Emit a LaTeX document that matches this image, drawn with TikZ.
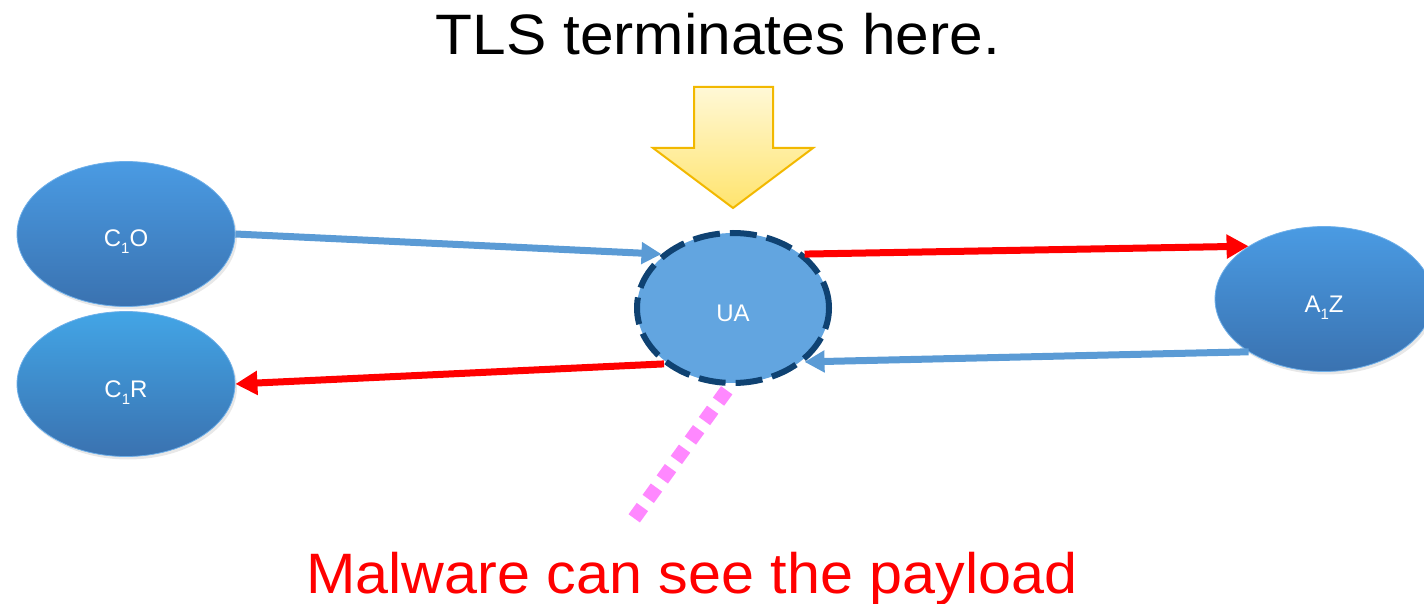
\documentclass[tikz,border=0pt]{standalone}
\usepackage{fontspec}
\setmainfont{Liberation Sans}
\usetikzlibrary{arrows.meta,shapes.geometric,shadows}

\definecolor{ellTop}{HTML}{4A9BE3}
\definecolor{ellBot}{HTML}{3A72B0}
\definecolor{uaFill}{HTML}{62A5E0}
\definecolor{uaEdge}{HTML}{0F4272}
\definecolor{linkBlue}{HTML}{5B9BD5}
\definecolor{linkRed}{HTML}{FF0000}
\definecolor{dotPink}{HTML}{FF88FF}
\definecolor{hintTop}{HTML}{FFF8D6}
\definecolor{hintBot}{HTML}{FFE46E}
\definecolor{hintEdge}{HTML}{F2B800}

% label set with its baseline a little below the node centre
\newcommand{\lowlbl}[1]{\raisebox{-13pt}[0pt][0pt]{#1}}
% node label with a deep subscript digit
\newcommand{\lbl}[3]{\lowlbl{#1\raisebox{-7pt}{\fontsize{15}{15}\selectfont #2}#3}}

\tikzset{
  ellnode/.style={ellipse, inner sep=0pt, minimum width=218pt, minimum height=145pt,
    top color=ellTop, bottom color=ellBot, draw=ellTop!80!white, line width=0.8pt,
    text=white, font=\fontsize{24}{26}\selectfont,
    drop shadow={shadow xshift=2pt, shadow yshift=-3pt, opacity=0.18}},
  uanode/.style={ellipse, inner sep=0pt, minimum width=192pt, minimum height=150pt,
    fill=uaFill, draw=uaEdge, line width=6pt, dash pattern=on 27pt off 10pt,
    text=white, font=\fontsize{24}{26}\selectfont},
  bluearrow/.style={draw=linkBlue, line width=7pt,
    -{Triangle[length=20pt,width=21pt]}},
  redarrow/.style={draw=linkRed, line width=7pt,
    -{Triangle[length=22pt,width=23pt]}},
  pinkdots/.style={draw=dotPink, line width=14pt, dash pattern=on 14pt off 10pt, dash phase=15pt},
  bigtext/.style={font=\fontsize{57}{60}\selectfont, anchor=base, inner sep=0pt}
}

\begin{document}
\begin{tikzpicture}[x=1pt, y=-1pt]
  \useasboundingbox (0,0) rectangle (1424,604);
  \clip (0,0) rectangle (1424,604);

  % headline and the pointer towards the proxy
  \node[bigtext, xscale=1.06] (tlstext) at (718,55) {TLS terminates here.};
  \draw[hintEdge, line width=2pt, top color=hintTop, bottom color=hintBot,
        line join=miter]
    (694,87) -- (773,87) -- (773,148) -- (813,148) -- (733,208)
    -- (653,148) -- (694,148) -- cycle;

  % endpoints
  \node[ellnode] (c1o) at (126,234) {\lbl{C}{1}{O}};
  \node[ellnode, top color=ellTop!90!cyan] (c1r) at (126,384) {\lbl{C}{1}{R}};
  \node[ellnode] (a1z) at (1324,299) {\lbl{A}{1}{Z}};

  % malware tap, drawn before the proxy so the proxy covers its start
  \coordinate (uafoot) at (732,383);
  \coordinate (mal) at (633,520);
  \draw[pinkdots] (uafoot) -- (mal);

  % the intercepting proxy
  \node[uanode] (ua) at (733,308) {\lowlbl{UA}};

  % traffic
  \draw[bluearrow] (c1o.east) -- (ua.143);
  \draw[redarrow] (ua.37) -- (a1z.145);
  \draw[bluearrow] (a1z.215) -- (ua.-37);
  \draw[redarrow] (ua.219) -- (c1r.east);

  \node[bigtext, text=linkRed, xscale=1.04] (maltext) at (692,593) {Malware can see the payload};
\end{tikzpicture}
\end{document}
